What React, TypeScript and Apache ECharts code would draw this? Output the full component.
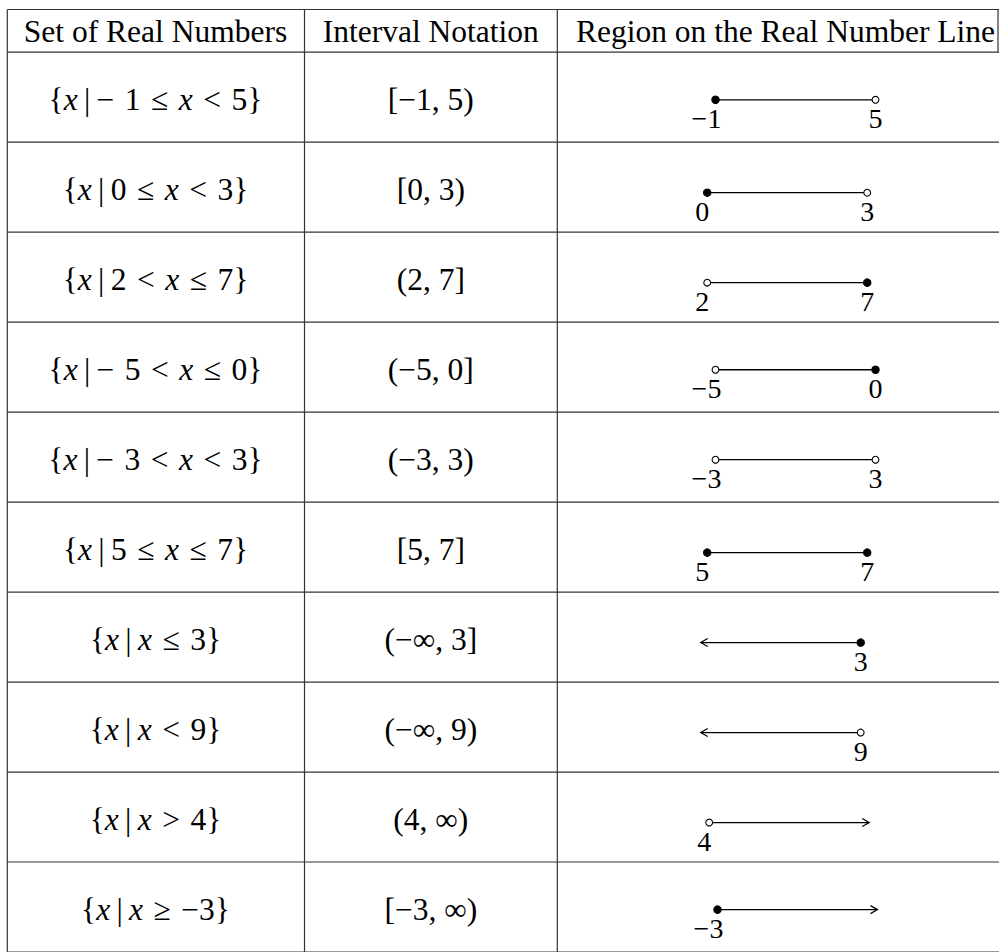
import React, { useEffect, useRef } from "react";
import * as echarts from "echarts";

// ---------- data ----------
const headers = ["Set of Real Numbers", "Interval Notation", "Region on the Real Number Line"];
const setNotations = [
  "{x | − 1 ≤ x < 5}",
  "{x | 0 ≤ x < 3}",
  "{x | 2 < x ≤ 7}",
  "{x | − 5 < x ≤ 0}",
  "{x | − 3 < x < 3}",
  "{x | 5 ≤ x ≤ 7}",
  "{x | x ≤ 3}",
  "{x | x < 9}",
  "{x | x > 4}",
  "{x | x ≥ −3}",
];
const intervalNotations = [
  "[−1, 5)",
  "[0, 3)",
  "(2, 7]",
  "(−5, 0]",
  "(−3, 3)",
  "[5, 7]",
  "(−∞, 3]",
  "(−∞, 9)",
  "(4, ∞)",
  "[−3, ∞)",
];
const lowerBounds: (number | null)[] = [-1, 0, 2, -5, -3, 5, null, null, 4, -3];
const upperBounds: (number | null)[] = [5, 3, 7, 0, 3, 7, 3, 9, null, null];
const lowerClosed = [true, true, false, false, false, true, false, false, false, true];
const upperClosed = [false, false, true, true, false, true, true, false, false, false];

// ---------- layout ----------
const W = 999;
const H = 952;
const FAMILY = "Liberation Serif";
const TEXT_SIZE = 31.5;
const LABEL_SIZE = 28;
const X_LEFT = 7.3;
const X_COL1 = 304.5;
const X_COL2 = 557.3;
const X_RIGHT = 998;
const TOP = 9.5;
const HEADER_BOTTOM = 52.2;
const ROW_H = 90.5;
const COL1_C = 155.5;
const COL2_C = 430.8;
const COL3_C = 785.5;
const LINE_LEN = 160;
const STROKE = "#333";

const fmt = (v: number) => (v < 0 ? "−" + Math.abs(v) : String(v));
const toRich = (s: string) =>
  s
    .replace(" | ", "\u2009|\u2009")
    .replace(/ /g, "\u2004")
    .replace(/x/g, "{i|x}");

// geometry of a row's number line, relative to the row's centre y
function lineGeom(idx: number, cy: number) {
  const lo = lowerBounds[idx];
  const hi = upperBounds[idx];
  const loMinus = lo != null && lo < 0;
  const hasMinus = loMinus || (hi != null && hi < 0);
  const ly = cy + (hasMinus ? 2.6 : 5.5);
  const center = COL3_C + 1.7 + (loMinus ? 8.3 : 0) + (lo == null ? -6.5 : 0) + (hi == null ? 2 : 0);
  return { lo, hi, loMinus, ly, x0: center - LINE_LEN / 2, x1: center + LINE_LEN / 2 };
}

const txt = (text: string, x: number, y: number, size: number, rich?: any) => ({
  type: "text",
  x,
  y,
  silent: true,
  style: {
    text,
    fontSize: size,
    fontFamily: FAMILY,
    fontWeight: "normal",
    fill: "#000",
    align: "center",
    verticalAlign: "middle",
    ...(rich ? { rich } : {}),
  },
});

const richI = {
  i: { fontStyle: "italic", fontWeight: "normal", fontSize: TEXT_SIZE, fontFamily: FAMILY, fill: "#000" },
};

export default function App() {
  const ref = useRef<HTMLDivElement>(null);
  useEffect(() => {
    if (!ref.current) return;
    const chart = echarts.init(ref.current, undefined, { renderer: "svg", width: W, height: H });
    const rows = setNotations.map((_, i) => i);

    const renderItem = (params: any, api: any) => {
      const idx = api.value(1);
      const cy = api.coord([0, idx])[1];
      const bh = api.size([0, 1])[1];
      const top = cy - bh / 2;
      const bottom = cy + bh / 2;
      const children: any[] = [];
      children.push({ type: "line", shape: { x1: X_LEFT, y1: bottom, x2: W + 20, y2: bottom }, style: { stroke: STROKE, lineWidth: 1.2 } });
      [X_LEFT, X_COL1, X_COL2].forEach((x) =>
        children.push({ type: "line", shape: { x1: x, y1: top, x2: x, y2: bottom }, style: { stroke: STROKE, lineWidth: 1.2 } })
      );
      const g = lineGeom(idx, cy);
      children.push({ type: "line", shape: { x1: g.x0, y1: g.ly, x2: g.x1, y2: g.ly }, style: { stroke: "#000", lineWidth: 1.3 } });
      if (g.lo == null) {
        children.push({ type: "polyline", shape: { points: [[g.x0 + 7, g.ly - 4], [g.x0, g.ly], [g.x0 + 7, g.ly + 4]] }, style: { stroke: "#000", fill: null, lineWidth: 1.2 } });
      } else {
        const c = lowerClosed[idx];
        children.push({ type: "circle", shape: { cx: g.x0, cy: g.ly, r: c ? 3.7 : 3.4 }, style: { fill: c ? "#000" : "#fff", stroke: "#000", lineWidth: 1.1 } });
      }
      if (g.hi == null) {
        children.push({ type: "polyline", shape: { points: [[g.x1 - 7, g.ly - 4], [g.x1, g.ly], [g.x1 - 7, g.ly + 4]] }, style: { stroke: "#000", fill: null, lineWidth: 1.2 } });
      } else {
        const c = upperClosed[idx];
        children.push({ type: "circle", shape: { cx: g.x1, cy: g.ly, r: c ? 3.7 : 3.4 }, style: { fill: c ? "#000" : "#fff", stroke: "#000", lineWidth: 1.1 } });
      }
      return { type: "group", children };
    };

    const headerCenters = [COL1_C, COL2_C, COL3_C];
    const headerY = (TOP + HEADER_BOTTOM) / 2 + 0.5;
    const baseGraphic: any[] = [
      { type: "line", shape: { x1: X_LEFT, y1: TOP, x2: W + 20, y2: TOP }, style: { stroke: STROKE, lineWidth: 1.2 } },
      { type: "line", shape: { x1: X_LEFT, y1: HEADER_BOTTOM, x2: W + 20, y2: HEADER_BOTTOM }, style: { stroke: STROKE, lineWidth: 1.2 } },
      ...[X_LEFT, X_COL1, X_COL2, X_RIGHT].map((x) => ({
        type: "line", shape: { x1: x, y1: TOP, x2: x, y2: HEADER_BOTTOM }, style: { stroke: STROKE, lineWidth: 1.2 },
      })),
      ...headers.map((h, i) => txt(h, headerCenters[i], headerY, TEXT_SIZE)),
    ];

    chart.setOption({
      animation: false,
      backgroundColor: "#fff",
      grid: { left: 0, top: HEADER_BOTTOM, width: W, height: ROW_H * rows.length, containLabel: false },
      xAxis: { type: "value", min: 0, max: W, show: false },
      yAxis: { type: "category", data: rows.map(String), inverse: true, show: false },
      graphic: { elements: baseGraphic },
      series: [
        {
          type: "custom",
          renderItem,
          data: rows.map((r) => [0, r]),
          encode: { x: 0, y: 1 },
          clip: false,
          silent: true,
        },
      ],
    });

    // cell texts, placed through the row axis
    const rowTexts: any[] = [];
    rows.forEach((idx) => {
      const cy = (chart.convertToPixel({ gridIndex: 0 }, [0, idx]) as number[])[1];
      rowTexts.push(txt(toRich(setNotations[idx]), COL1_C, cy + 2, TEXT_SIZE, richI));
      rowTexts.push(txt(intervalNotations[idx], COL2_C, cy + 2, TEXT_SIZE));
      const g = lineGeom(idx, cy);
      if (g.lo != null) rowTexts.push(txt(fmt(g.lo), g.x0 + (g.loMinus ? -9 : -5), g.ly + 19, LABEL_SIZE));
      if (g.hi != null) rowTexts.push(txt(fmt(g.hi), g.x1, g.ly + 19, LABEL_SIZE));
    });
    chart.setOption({ graphic: { elements: [...baseGraphic, ...rowTexts] } }, { replaceMerge: ["graphic"] });

    return () => chart.dispose();
  }, []);
  return <div ref={ref} style={{ position: "fixed", left: 0, top: 0, width: W, height: H, background: "#fff" }} />;
}
